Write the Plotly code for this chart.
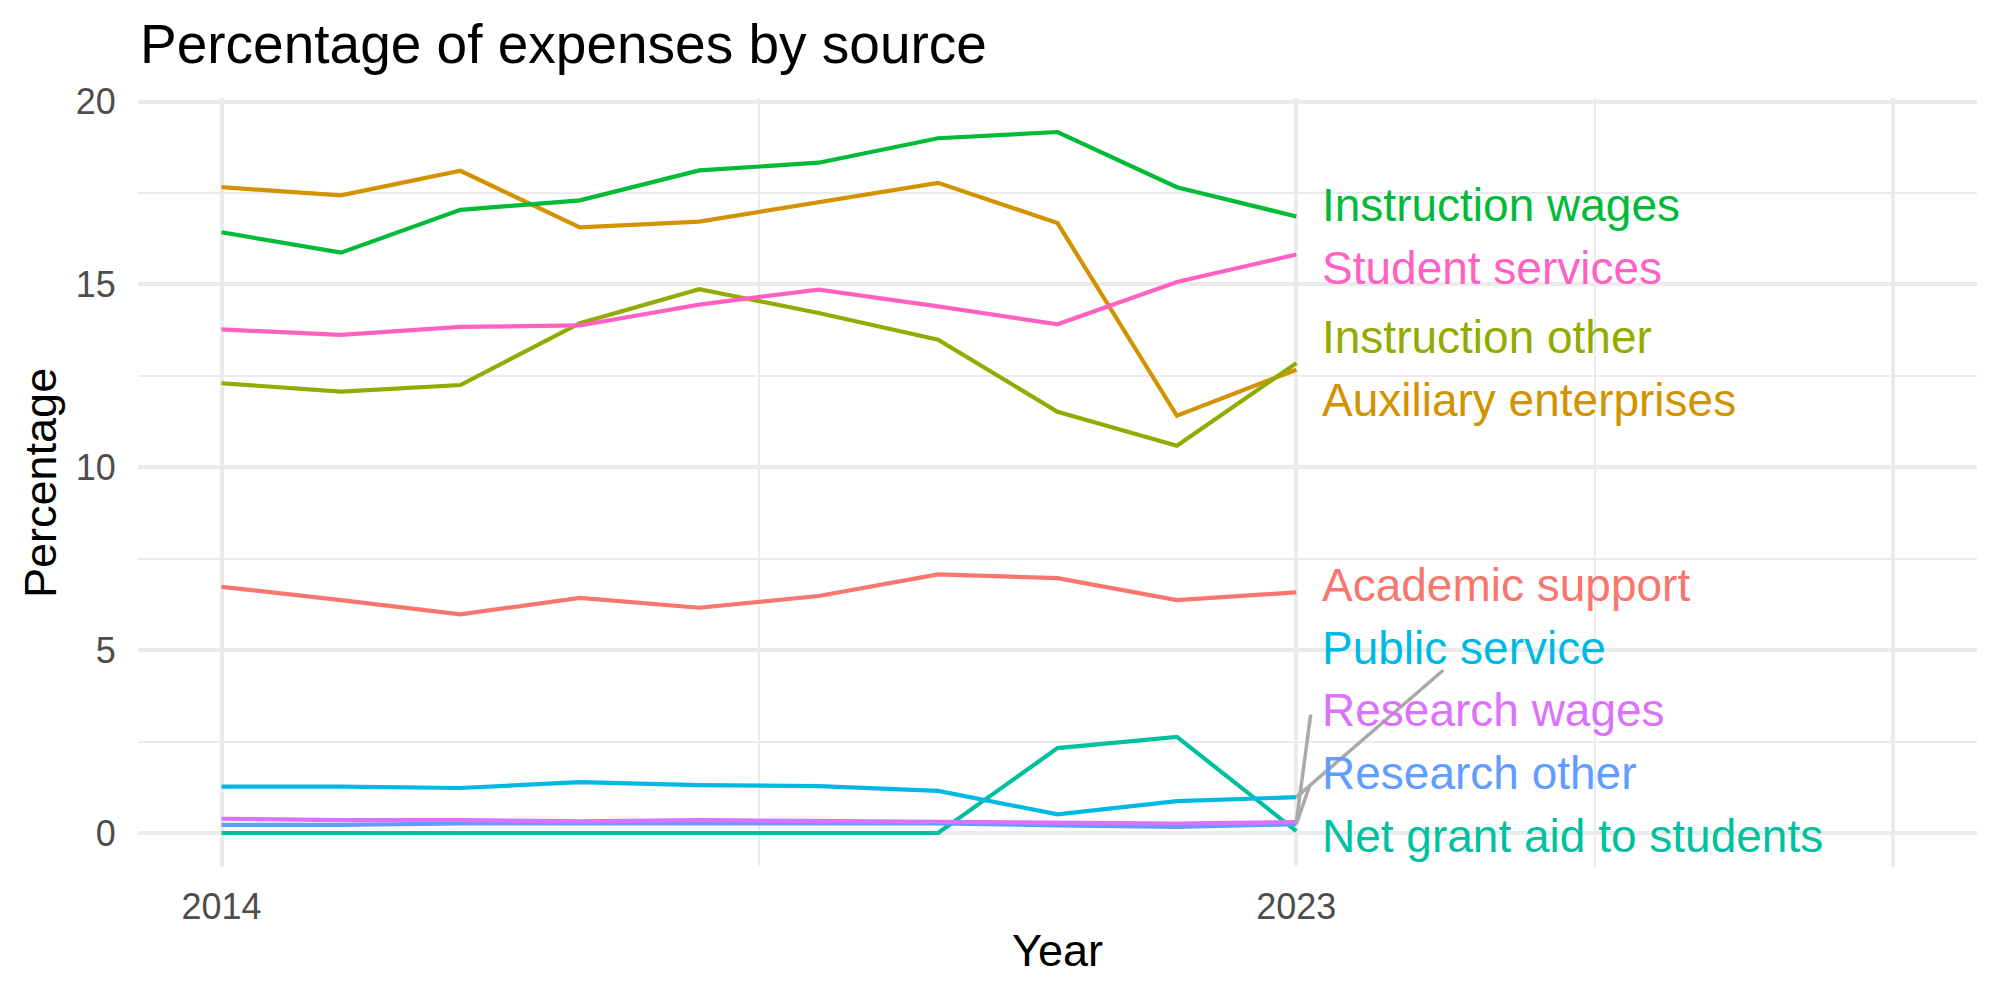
import plotly.graph_objects as go

# ---------------- data ----------------
years = [2014, 2015, 2016, 2017, 2018, 2019, 2020, 2021, 2022, 2023]

academic_support = [6.73, 6.37, 5.98, 6.43, 6.16, 6.48, 7.07, 6.97, 6.37, 6.58]
auxiliary_enterprises = [17.66, 17.44, 18.11, 16.56, 16.72, 17.24, 17.78, 16.68, 11.41, 12.67]
instruction_other = [12.30, 12.07, 12.25, 13.94, 14.87, 14.22, 13.49, 11.52, 10.59, 12.85]
instruction_wages = [16.43, 15.87, 17.04, 17.30, 18.12, 18.33, 19.00, 19.17, 17.66, 16.86]
net_grant_aid = [0.0, 0.0, 0.0, 0.0, 0.0, 0.0, 0.0, 2.32, 2.63, 0.05]
public_service = [1.27, 1.27, 1.23, 1.39, 1.31, 1.28, 1.15, 0.51, 0.87, 0.98]
research_other = [0.22, 0.22, 0.26, 0.25, 0.26, 0.26, 0.26, 0.21, 0.17, 0.24]
research_wages = [0.39, 0.35, 0.35, 0.32, 0.35, 0.33, 0.31, 0.28, 0.26, 0.30]
student_services = [13.77, 13.62, 13.84, 13.88, 14.45, 14.86, 14.40, 13.91, 15.07, 15.82]

series_names = ["Academic support", "Auxiliary enterprises", "Instruction other",
                "Instruction wages", "Net grant aid to students", "Public service",
                "Research other", "Research wages", "Student services"]
series_values = [academic_support, auxiliary_enterprises, instruction_other,
                 instruction_wages, net_grant_aid, public_service,
                 research_other, research_wages, student_services]

x_tick_vals = [2014, 2023, 2028]
x_tick_text = ["2014", "2023", ""]
y_tick_vals = [0, 5, 10, 15, 20]

# ---------------- layout of repelled labels (ggrepel result) ----------------
label_x = 2023.2
label_y = [6.78, 11.85, 13.57, 17.17, -0.07, 5.07, 1.64, 3.36, 15.46]
# segment tips for labels that were pushed away from their line end
segment_tips = {"Public service": (2024.23, 4.45),
                "Research wages": (2023.12, 3.24),
                "Research other": (2023.11, 1.28)}

# ---------------- style ----------------
colors = ["#F8766D", "#D39200", "#93AA00", "#00BA38", "#00C19F",
          "#00B9E3", "#619CFF", "#DB72FB", "#FF61C3"]
FONT = "Liberation Sans, Arial, Helvetica, sans-serif"
GRID = "#EBEBEB"

fig = go.Figure()

for name, vals, col in zip(series_names, series_values, colors):
    fig.add_trace(go.Scatter(x=years, y=vals, mode="lines", name=name,
                             line=dict(color=col, width=4.2), showlegend=False,
                             hoverinfo="x+y+name"))

for name, vals in zip(series_names, series_values):
    if name in segment_tips:
        tx, ty = segment_tips[name]
        fig.add_trace(go.Scatter(x=[years[-1], tx], y=[vals[-1], ty], mode="lines",
                                 line=dict(color="#A9A9A9", width=3.5),
                                 showlegend=False, hoverinfo="skip"))

annotations = []
for name, ly, col in zip(series_names, label_y, colors):
    annotations.append(dict(x=label_x, y=ly, xref="x", yref="y", text=name,
                            showarrow=False, xanchor="left", yanchor="middle",
                            font=dict(family=FONT, size=46, color=col)))

# panel occupies x 138..1977 px, y 98..867 px
annotations.append(dict(x=0.5, y=(867 - 950) / 769, xref="paper",
                        yref="paper", text="Year", showarrow=False,
                        xanchor="center", yanchor="middle",
                        font=dict(family=FONT, size=45, color="black")))
annotations.append(dict(x=(40 - 138) / 1839, y=(867 - 483) / 769, xref="paper",
                        yref="paper", text="Percentage", showarrow=False,
                        textangle=-90, xanchor="center", yanchor="middle",
                        font=dict(family=FONT, size=45, color="black")))

fig.update_layout(
    width=2000, height=1000,
    margin=dict(l=138, r=23, t=98, b=133, autoexpand=False),
    paper_bgcolor="white", plot_bgcolor="white",
    title=dict(text="Percentage of expenses by source", x=140 / 2000, xanchor="left",
               xref="container", yref="container", y=1 - 44 / 1000, yanchor="middle",
               font=dict(family=FONT, size=55, color="black")),
    annotations=annotations,
    xaxis=dict(range=[2013.3, 2028.7], tickvals=x_tick_vals, ticktext=x_tick_text,
               showgrid=True, gridcolor=GRID, gridwidth=4, zeroline=False,
               showline=False, ticks="outside", ticklen=8, tickcolor="rgba(0,0,0,0)",
               tickfont=dict(family=FONT, size=36, color="#4D4D4D"),
               minor=dict(tickvals=[2018.5, 2025.5], showgrid=True, gridcolor=GRID,
                          gridwidth=2, ticks=""),
               fixedrange=True),
    yaxis=dict(range=[-0.93, 20.1], tickvals=y_tick_vals,
               showgrid=True, gridcolor=GRID, gridwidth=4, zeroline=False,
               showline=False, ticks="outside", ticklen=14, tickcolor="rgba(0,0,0,0)",
               tickfont=dict(family=FONT, size=36, color="#4D4D4D"),
               minor=dict(tickvals=[2.5, 7.5, 12.5, 17.5], showgrid=True,
                          gridcolor=GRID, gridwidth=2, ticks=""),
               fixedrange=True),
)

fig.write_html("out.html")
